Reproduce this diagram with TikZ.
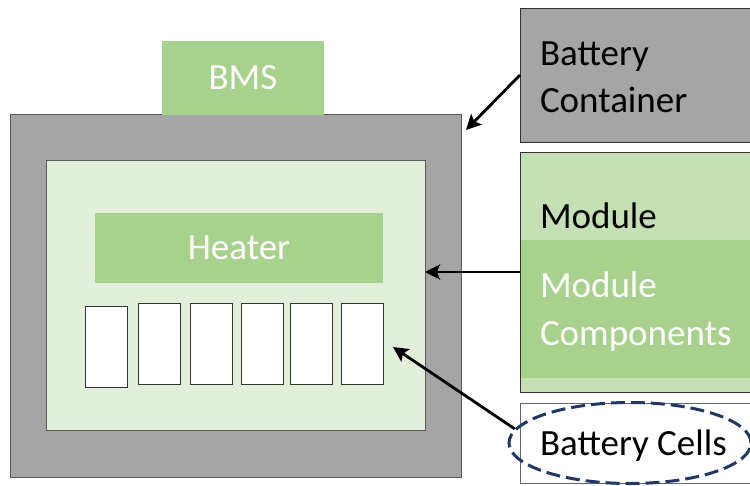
\documentclass[tikz,border=0pt]{standalone}
\usepackage{fontspec}
\setmainfont{Carlito}
\usetikzlibrary{arrows.meta,shapes.geometric}
\definecolor{cgray}{HTML}{A5A5A5}
\definecolor{cedge}{HTML}{595959}
\definecolor{lgreen}{HTML}{E2EFDA}
\definecolor{mgreen}{HTML}{A9D18E}
\definecolor{pgreen}{HTML}{C5E0B4}
\definecolor{navy}{HTML}{203864}
\begin{document}
\begin{tikzpicture}[x=1pt,y=-1pt,
  blk/.style={rectangle,inner sep=0pt,outer sep=0pt,line width=0.8pt},
  cellbox/.style={blk,draw=black!80,fill=white,minimum width=42pt,minimum height=81pt},
  lbl/.style={inner sep=0pt,outer sep=0pt,anchor=base west,font=\fontsize{37}{44}\selectfont},
  arr/.style={line width=2.8pt,-{Stealth[length=15pt,width=15pt,inset=3pt]}}]
\useasboundingbox (0,0) rectangle (750,485);
\fill[white] (0,0) rectangle (750,485);
% left assembly
\node[blk,draw=cedge,fill=cgray,minimum width=451pt,minimum height=363pt] (outer) at (235.5,295.5) {};
\node[blk,draw=cedge,fill=lgreen,minimum width=379pt,minimum height=270pt] (inner) at (235.5,295) {};
\node[blk,fill=mgreen,minimum width=162pt,minimum height=74pt,font=\fontsize{37}{44}\selectfont,text=white] (bms) at (243,78) {BMS};
\node[blk,fill=mgreen,minimum width=288pt,minimum height=70pt,font=\fontsize{37}{44}\selectfont,text=white] (heater) at (239,248) {\raisebox{-2pt}{Heater}};
\node[cellbox] (c1) at (106,346.5) {};
\node[cellbox] (c2) at (159.5,343.5) {};
\node[cellbox] (c3) at (211,343.5) {};
\node[cellbox] (c4) at (262,343.5) {};
\node[cellbox] (c5) at (311,343.5) {};
\node[cellbox] (c6) at (362,343.5) {};
% right legend
\node[blk,draw=black!80,fill=cgray,minimum width=250pt,minimum height=134pt] (container) at (645,75) {};
\node[lbl] (t1) at (540,65) {Battery};
\node[lbl] (t2) at (540,112) {Container};
\node[blk,draw=black!80,fill=pgreen,minimum width=250pt,minimum height=240pt] (module) at (645,272) {};
\node[blk,fill=mgreen,minimum width=249pt,minimum height=138pt] (band) at (645.5,309) {};
\draw[line width=0.8pt,draw=black!80] (module.north west) rectangle (module.south east);
\node[lbl] (t3) at (540,228) {Module};
\node[lbl,text=white] (t4) at (540,297) {Module};
\node[lbl,text=white] (t5) at (540,345) {Components};
\node[blk,draw=black!60,fill=white,minimum width=250pt,minimum height=80pt] (cellsbox) at (645,443) {};
\node[lbl] (t6) at (540,455) {Battery Cells};
\node[ellipse,draw=navy,line width=3pt,dash pattern=on 14pt off 6pt,minimum width=242pt,minimum height=81pt,inner sep=0pt] (ell) at (630,443) {};
% arrows
\coordinate (tipA) at (466,130);
\coordinate (tipC) at (393,347);
\draw[arr] (container.west) -- (tipA);
\draw[arr] (module.west) -- (module.west -| inner.east);
\draw[arr] (ell.173) -- (tipC);
\end{tikzpicture}
\end{document}
